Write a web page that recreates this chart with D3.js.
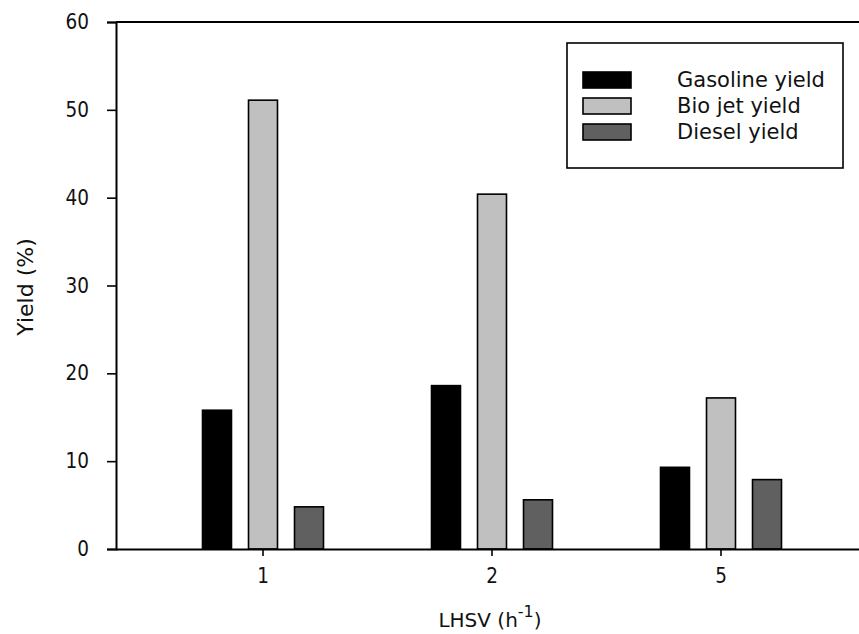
<!DOCTYPE html>
<html>
<head>
<meta charset="utf-8">
<script src="https://cdn.jsdelivr.net/npm/d3@7/dist/d3.min.js"></script>
<style>
  html, body { margin: 0; padding: 0; background: #fff; }
  svg { display: block; }
  text { font-family: "DejaVu Sans", Verdana, sans-serif; fill: #111; }
</style>
</head>
<body>
<svg id="chart" width="859" height="634"></svg>
<script>
// LHSV categories and yields (%) for each product fraction
const lhsv = ["1", "2", "5"];
const seriesNames = ["Gasoline yield", "Bio jet yield", "Diesel yield"];
const gasoline = [15.8, 18.6, 9.3];
const bioJet = [51.1, 40.4, 17.2];
const diesel = [4.8, 5.6, 7.9];
const yTicks = [0, 10, 20, 30, 40, 50, 60];
const seriesColors = ["#000000", "#c0c0c0", "#606060"];

const seriesValues = [gasoline, bioJet, diesel];
const tickFont = "\"DejaVu Sans Condensed\", \"DejaVu Sans\", sans-serif";

const svg = d3.select("#chart");
const plotLeft = 116, plotRight = 900, plotTop = 22, plotBottom = 549;

const x = d3.scaleBand().domain(lhsv).range([148.5, 835.5]).paddingInner(0).paddingOuter(0);
const xs = d3.scaleBand().domain(seriesNames).range([-60.5, 60.5]).paddingInner(0.37).paddingOuter(0);
const y = d3.scaleLinear().domain([0, 60]).range([plotBottom, plotTop]);

// Bars
const groups = svg.append("g").selectAll("g")
  .data(lhsv)
  .join("g")
  .attr("transform", d => `translate(${x(d) + x.bandwidth() / 2},0)`);

groups.selectAll("rect")
  .data((d, i) => seriesNames.map((s, j) => ({ s, j, v: seriesValues[j][i] })))
  .join("rect")
  .attr("x", d => xs(d.s))
  .attr("width", xs.bandwidth())
  .attr("y", d => y(d.v))
  .attr("height", d => y(0) - y(d.v))
  .attr("fill", d => seriesColors[d.j])
  .attr("stroke", "#000")
  .attr("stroke-width", 1.6);

// Frame: top border line
svg.append("line")
  .attr("x1", plotLeft).attr("x2", plotRight)
  .attr("y1", plotTop).attr("y2", plotTop)
  .attr("stroke", "#000").attr("stroke-width", 2);

// Y axis
const yAxis = svg.append("g")
  .attr("transform", `translate(${plotLeft},0)`)
  .call(d3.axisLeft(y).tickValues(yTicks).tickSize(9).tickPadding(18).tickFormat(d3.format("d")));
yAxis.select(".domain").attr("stroke", "#000").attr("stroke-width", 2);
yAxis.selectAll(".tick line").attr("stroke", "#000").attr("stroke-width", 1.6);
yAxis.selectAll(".tick text").attr("fill", "#111")
  .style("font-size", "20.5px").style("font-family", tickFont);

// X axis
const xAxis = svg.append("g")
  .attr("transform", `translate(0,${plotBottom})`)
  .call(d3.axisBottom(x).tickSize(7).tickPadding(12).tickSizeOuter(0));
xAxis.select(".domain").attr("d", `M${plotLeft},0.5H${plotRight}`).attr("stroke", "#000").attr("stroke-width", 2);
xAxis.selectAll(".tick line").attr("stroke", "#000").attr("stroke-width", 1.6);
xAxis.selectAll(".tick text").attr("fill", "#111")
  .style("font-size", "20.5px").style("font-family", tickFont);

// Axis titles
svg.append("text")
  .attr("transform", "translate(33,287) rotate(-90)")
  .attr("text-anchor", "middle")
  .style("font-size", "22px")
  .text("Yield (%)");

const xt = svg.append("text")
  .attr("x", 490).attr("y", 627)
  .attr("text-anchor", "middle")
  .style("font-size", "20px");
xt.append("tspan").text("LHSV (h");
xt.append("tspan").attr("dy", -10).style("font-size", "16px").text("-1");
xt.append("tspan").attr("dy", 10).text(")");

// Legend
const legend = svg.append("g");
legend.append("rect")
  .attr("x", 567).attr("y", 43).attr("width", 276).attr("height", 125)
  .attr("fill", "#fff").attr("stroke", "#000").attr("stroke-width", 1.6);

const items = legend.selectAll("g.item")
  .data(seriesNames)
  .join("g")
  .attr("class", "item")
  .attr("transform", (d, i) => `translate(0,${72 + i * 26})`);
items.append("rect")
  .attr("x", 583).attr("y", 0).attr("width", 48).attr("height", 16)
  .attr("fill", (d, i) => seriesColors[i])
  .attr("stroke", "#000").attr("stroke-width", 1.6);
items.append("text")
  .attr("x", 677).attr("y", 15)
  .style("font-size", "21px")
  .text(d => d);
</script>
</body>
</html>
